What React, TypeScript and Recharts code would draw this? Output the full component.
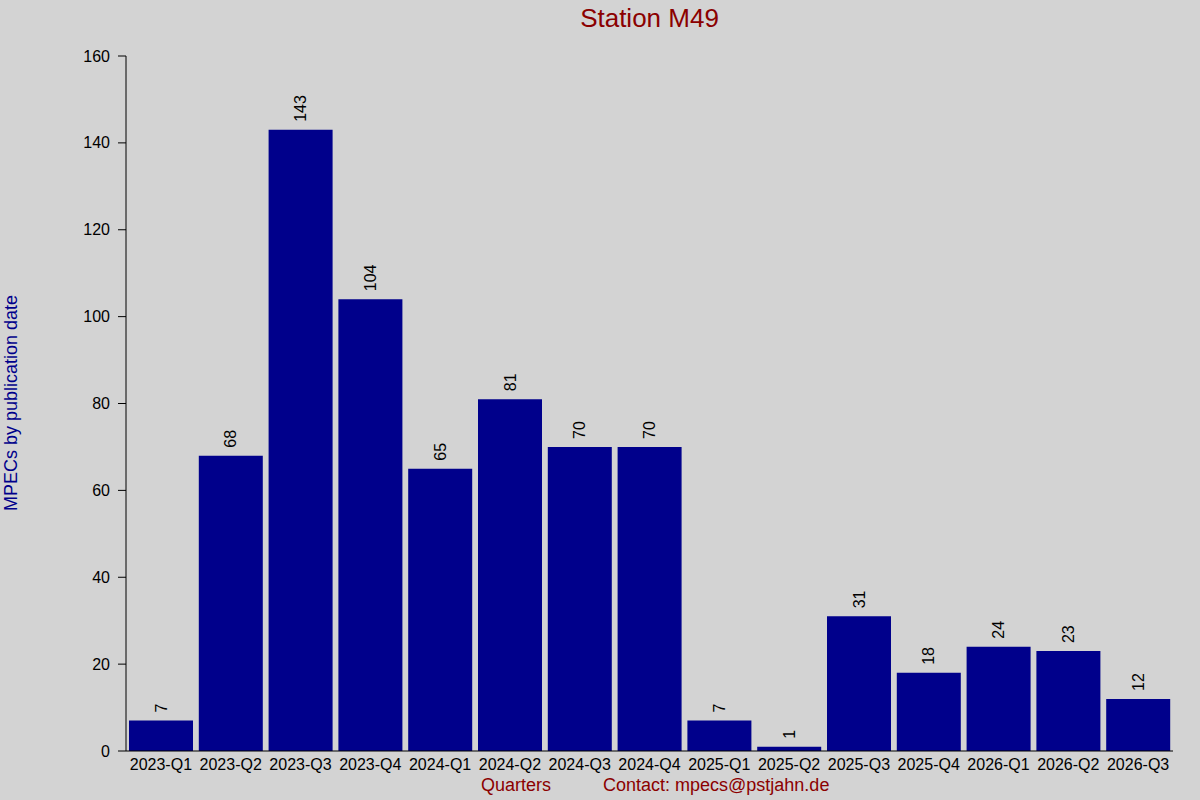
import { BarChart, Bar, XAxis, YAxis, LabelList } from 'recharts';

const quarters = [
  '2023-Q1', '2023-Q2', '2023-Q3', '2023-Q4',
  '2024-Q1', '2024-Q2', '2024-Q3', '2024-Q4',
  '2025-Q1', '2025-Q2', '2025-Q3', '2025-Q4',
  '2026-Q1', '2026-Q2', '2026-Q3',
];
const mpecs = [7, 68, 143, 104, 65, 81, 70, 70, 7, 1, 31, 18, 24, 23, 12];
const yTicks = [0, 20, 40, 60, 80, 100, 120, 140, 160];

const data = quarters.map((q, i) => ({ quarter: q, count: mpecs[i] }));

const FONT = '"Liberation Sans", Arial, sans-serif';

function ValueLabel({ x, y, width, value }: any) {
  const cx = x + width / 2;
  const ty = y - 8;
  return (
    <text
      x={cx}
      y={ty}
      transform={`rotate(-90 ${cx} ${ty})`}
      textAnchor="start"
      dominantBaseline="central"
      style={{ fontSize: 16, fontFamily: FONT }}
      fill="#000"
    >
      {value}
    </text>
  );
}

function QuarterTick({ x, y, payload }: any) {
  return (
    <text
      x={x}
      y={y + 13}
      textAnchor="middle"
      dominantBaseline="central"
      style={{ fontSize: 16, fontFamily: FONT }}
      fill="#000"
    >
      {payload.value}
    </text>
  );
}

function CountTick({ x, y, payload }: any) {
  return (
    <text
      x={x - 8}
      y={y}
      textAnchor="end"
      dominantBaseline="central"
      style={{ fontSize: 16, fontFamily: FONT }}
      fill="#000"
    >
      {payload.value}
    </text>
  );
}

export default function App() {
  return (
    <div
      style={{
        position: 'absolute',
        left: 0,
        top: 0,
        width: 1200,
        height: 800,
        background: '#d3d3d3',
        fontFamily: FONT,
      }}
    >
      <div
        style={{
          position: 'absolute',
          left: 0,
          width: 1299,
          top: 3,
          textAlign: 'center',
          fontSize: 26,
          color: '#8b0000',
        }}
      >
        Station M49
      </div>
      <div
        style={{
          position: 'absolute',
          left: 11,
          top: 403,
          transform: 'translate(-50%, -50%) rotate(-90deg)',
          whiteSpace: 'nowrap',
          fontSize: 18,
          color: '#00008b',
        }}
      >
        MPECs by publication date
      </div>
      <div
        style={{
          position: 'absolute',
          left: 481,
          top: 775,
          fontSize: 18,
          color: '#8b0000',
        }}
      >
        Quarters
      </div>
      <div
        style={{
          position: 'absolute',
          left: 603,
          top: 775,
          fontSize: 18,
          color: '#8b0000',
        }}
      >
        Contact: mpecs@pstjahn.de
      </div>
      <BarChart
        width={1200}
        height={800}
        data={data}
        margin={{ top: 56, right: 27, left: 0, bottom: 19 }}
        barCategoryGap={3}
      >
        <XAxis
          dataKey="quarter"
          xAxisId="top"
          orientation="top"
          height={0}
          axisLine={false}
          tickSize={1}
          tickLine={{ stroke: '#000' }}
          tickFormatter={() => ''}
        />
        <XAxis
          dataKey="quarter"
          height={30}
          interval={0}
          tickSize={0}
          tickMargin={0}
          tickLine={false}
          axisLine={{ stroke: '#000' }}
          tick={<QuarterTick />}
        />
        <YAxis
          width={126}
          domain={[0, 160]}
          ticks={yTicks}
          interval={0}
          tickSize={8}
          tickMargin={0}
          axisLine={{ stroke: '#000' }}
          tickLine={{ stroke: '#000' }}
          tick={<CountTick />}
        />
        <Bar dataKey="count" fill="#00008b" isAnimationActive={false}>
          <LabelList dataKey="count" content={<ValueLabel />} />
        </Bar>
      </BarChart>
    </div>
  );
}
